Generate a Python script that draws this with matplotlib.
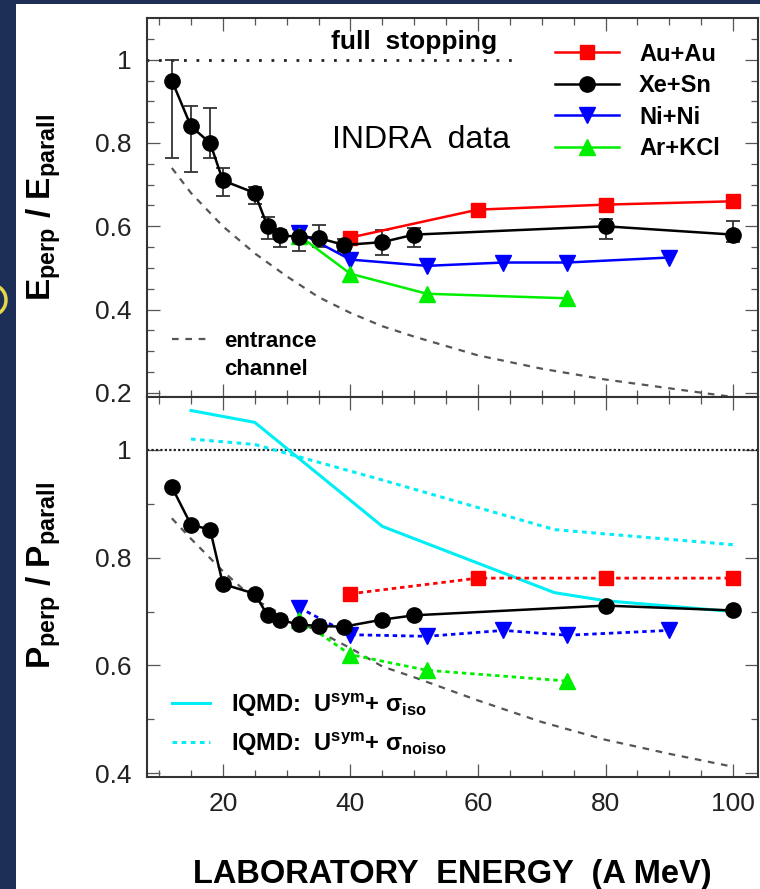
import numpy as np
import matplotlib.pyplot as plt
from matplotlib.patches import Rectangle, Arc

plt.rcParams['font.family'] = ['Liberation Sans', 'DejaVu Sans']
plt.rcParams['mathtext.fontset'] = 'custom'
plt.rcParams['mathtext.rm'] = 'Liberation Sans:bold'
plt.rcParams['mathtext.bf'] = 'Liberation Sans:bold'
plt.rcParams['mathtext.it'] = 'Liberation Sans:italic:bold'

# ---- top panel : E_perp / E_parall ----
xe_e_x = [12, 15, 18, 20, 25, 27, 29, 32, 35, 39, 45, 50, 80, 100]
xe_e = [0.95, 0.84, 0.80, 0.71, 0.68, 0.60, 0.578, 0.575, 0.572, 0.555, 0.562, 0.58, 0.60, 0.58]
xe_e_lo = [0.185, 0.11, 0.037, 0.038, 0.026, 0.03, 0.028, 0.035, 0.022, 0.015, 0.03, 0.03, 0.03, 0.018]
xe_e_hi = [0.05, 0.048, 0.084, 0.03, 0.014, 0.022, 0.012, 0.019, 0.03, 0.015, 0.03, 0.015, 0.018, 0.032]

au_x = [40, 60, 80, 100]
au_e = [0.573, 0.64, 0.652, 0.66]
ni_x = [32, 40, 52, 64, 74, 90]
ni_e = [0.585, 0.52, 0.505, 0.513, 0.513, 0.525]
ar_x = [32, 40, 52, 74]
ar_e = [0.577, 0.486, 0.438, 0.427]

entr_x = [12, 15, 20, 25, 30, 35, 40, 45, 50, 60, 70, 80, 90, 100]
entr_e = [0.74, 0.68, 0.60, 0.535, 0.48, 0.43, 0.392, 0.36, 0.335, 0.29, 0.258, 0.232, 0.211, 0.19]
stop_x = [8, 66]

# ---- bottom panel : P_perp / P_parall ----
xe_p = [0.931, 0.861, 0.852, 0.751, 0.733, 0.693, 0.684, 0.676, 0.673, 0.672, 0.685, 0.693, 0.711, 0.702]
au_p = [0.733, 0.762, 0.762, 0.762]
ni_p = [0.707, 0.657, 0.654, 0.665, 0.656, 0.665]
ar_p = [0.685, 0.62, 0.591, 0.571]
entr_p = [0.873, 0.835, 0.775, 0.722, 0.69, 0.663, 0.632, 0.598, 0.578, 0.535, 0.495, 0.462, 0.436, 0.412]

iso_x = [15, 25, 45, 72, 80, 100]
iso_p = [1.073, 1.051, 0.858, 0.735, 0.72, 0.70]
noiso_x = [15, 25, 45, 72, 100]
noiso_p = [1.02, 1.01, 0.944, 0.852, 0.824]

xticks = [20, 40, 60, 80, 100]
top_yticks = [0.2, 0.4, 0.6, 0.8, 1.0]
top_ylabels = ['0.2', '0.4', '0.6', '0.8', '1']
bot_yticks = [0.4, 0.6, 0.8, 1.0]
bot_ylabels = ['0.4', '0.6', '0.8', '1']

RED, BLUE, GREEN, CYAN = '#ff0000', '#0000ff', '#00ee00', '#00eef5'
FRAME = '#333333'

fig = plt.figure(figsize=(7.6, 8.89), dpi=100, facecolor='#1d2f57')
fig.patches.append(Rectangle((16 / 760, 0), 1, 885 / 889, transform=fig.transFigure,
                             facecolor='white', edgecolor='none', zorder=-10))
fig.patches.append(Arc((-8 / 760, 1 - 300 / 889), 28 / 760, 30 / 889, transform=fig.transFigure,
                       edgecolor='#e6d64a', lw=2.5, zorder=-9))

ax1 = fig.add_axes([0.1934, 0.5534, 0.8039, 0.4263])
ax2 = fig.add_axes([0.1934, 0.1260, 0.8039, 0.4274])

for ax in (ax1, ax2):
    ax.set_xlim(8.1, 103.9)
    ax.set_xticks(xticks)
    ax.set_xticks(np.arange(10, 104, 5), minor=True)
    for s in ax.spines.values():
        s.set_linewidth(1.5)
        s.set_color(FRAME)
    ax.tick_params(which='both', direction='in', top=True, right=True, color='#555555')
    ax.tick_params(which='major', length=9.5, width=0.9, labelsize=19, labelcolor='#222222', pad=11)
    ax.tick_params(which='minor', length=5, width=0.9)

ax1.set_ylim(0.19, 1.10)
ax1.set_yticks(top_yticks, top_ylabels)
ax1.set_yticks(np.arange(0.2, 1.1, 0.05), minor=True)
ax1.tick_params(labelbottom=False)

ax2.set_ylim(0.393, 1.098)
ax2.set_yticks(bot_yticks, bot_ylabels)
ax2.set_yticks(np.arange(0.4, 1.1, 0.1), minor=True)
ax2.set_xticks(xticks, [str(v) for v in xticks])

# top panel
ax1.plot(stop_x, [1, 1], ls=(0, (1, 3.5)), lw=2, color='#222222')
ax1.text(50, 1.043, 'full  stopping', ha='center', va='center', fontsize=19, fontweight='bold')
ax1.text(51, 0.807, 'INDRA  data', ha='center', va='center', fontsize=23)
ent, = ax1.plot(entr_x, entr_e, ls=(0, (3, 3)), lw=1.6, color='#555555')

ax1.errorbar(xe_e_x, xe_e, yerr=[xe_e_lo, xe_e_hi], fmt='none', ecolor='#333333',
             elinewidth=1.3, capsize=5, capthick=1.3, zorder=3)
au1, = ax1.plot(au_x, au_e, '-s', color=RED, lw=1.8, ms=10.5, zorder=4)
xe1, = ax1.plot(xe_e_x, xe_e, '-o', color='black', lw=1.8, ms=11, zorder=5)
ni1, = ax1.plot(ni_x, ni_e, '-v', color=BLUE, lw=1.8, ms=11, zorder=4)
ar1, = ax1.plot(ar_x, ar_e, '-^', color=GREEN, lw=1.8, ms=11, zorder=4)

leg1 = ax1.legend([au1, xe1, ni1, ar1], ['Au+Au', 'Xe+Sn', 'Ni+Ni', 'Ar+KCl'],
                  loc='upper left', bbox_to_anchor=(0.668, 0.935), frameon=False,
                  borderpad=0, borderaxespad=0, handlelength=2.7, handletextpad=0.85,
                  labelspacing=0.36, prop={'size': 17, 'weight': 'bold'})
ax1.add_artist(leg1)
ax1.legend([ent], ['entrance'], loc='upper left', bbox_to_anchor=(0.041, 0.175), frameon=False,
           borderpad=0, borderaxespad=0, handlelength=1.7, handletextpad=0.65,
           prop={'size': 16, 'weight': 'bold'})
ax1.text(0.126, 0.072, 'channel', transform=ax1.transAxes, ha='left', va='center',
         fontsize=16, fontweight='bold')

ax1.set_ylabel(r'E$_{\rm perp}$ / E$_{\rm parall}$', fontsize=24, fontweight='bold')
ax1.yaxis.set_label_coords(-0.137, 0.5)

# bottom panel
ax2.axhline(1, ls=(0, (1, 1)), lw=1.6, color='#222222')
ax2.plot(entr_x, entr_p, ls=(0, (3, 3)), lw=1.6, color='#555555')
iso, = ax2.plot(iso_x, iso_p, '-', color=CYAN, lw=2.2)
noiso, = ax2.plot(noiso_x, noiso_p, ls=(0, (1.5, 1.5)), color=CYAN, lw=2.2)

dot = (0, (1.6, 1.4))
ax2.plot(au_x, au_p, marker='s', ls=dot, color=RED, lw=2, ms=10.5, zorder=4)
ax2.plot(ni_x, ni_p, marker='v', ls=dot, color=BLUE, lw=2, ms=11, zorder=4)
ax2.plot(ar_x, ar_p, marker='^', ls=dot, color=GREEN, lw=2, ms=11, zorder=4)
ax2.plot(xe_e_x, xe_p, '-o', color='black', lw=1.8, ms=11, zorder=5)

ax2.legend([iso, noiso],
           [r'IQMD:  U$^{\mathregular{sym}}$+ σ$_{\rm iso}$',
            r'IQMD:  U$^{\mathregular{sym}}$+ σ$_{\rm noiso}$'],
           loc='upper left', bbox_to_anchor=(0.041, 0.225), frameon=False,
           borderpad=0, borderaxespad=0, handlelength=1.6, handletextpad=0.9,
           labelspacing=0.5, prop={'size': 17, 'weight': 'bold'})

ax2.set_ylabel(r'P$_{\rm perp}$ / P$_{\rm parall}$', fontsize=24, fontweight='bold')
ax2.yaxis.set_label_coords(-0.137, 0.53)
ax2.set_xlabel('LABORATORY  ENERGY  (A MeV)', fontsize=23.5, fontweight='bold', labelpad=31)

fig.savefig('out.png', dpi=100, facecolor=fig.get_facecolor())
